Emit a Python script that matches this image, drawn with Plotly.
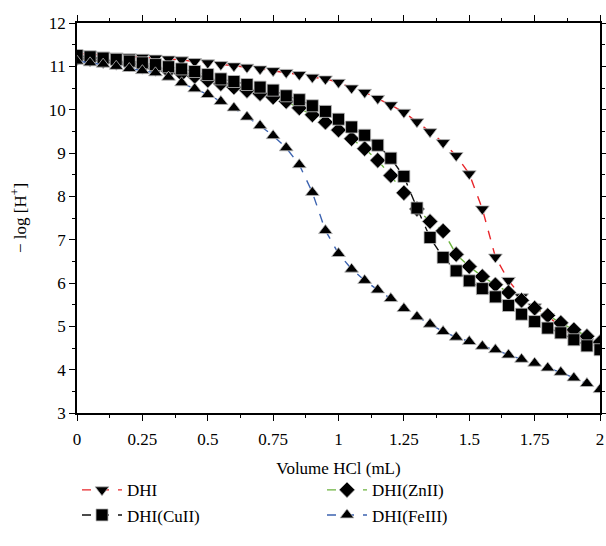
import plotly.graph_objects as go

volume = [round(0.05 * i, 2) for i in range(41)]

dhi = [11.30, 11.28, 11.26, 11.24, 11.22, 11.21, 11.19, 11.17, 11.15, 11.11,
       11.08, 11.04, 11.01, 10.98, 10.94, 10.90, 10.86, 10.81, 10.75, 10.71,
       10.63, 10.50, 10.40, 10.26, 10.11, 9.94, 9.72, 9.49, 9.24, 8.94,
       8.52, 7.71, 6.60, 6.06, 5.68, 5.45, 5.22, 5.00, 4.80, 4.65, 4.50]

cu = [11.25, 11.22, 11.19, 11.16, 11.12, 11.08, 11.04, 10.99, 10.94, 10.88,
      10.81, 10.71, 10.65, 10.58, 10.52, 10.45, 10.32, 10.23, 10.09, 9.96,
      9.78, 9.60, 9.41, 9.18, 8.88, 8.46, 7.73, 7.05, 6.59, 6.28,
      6.05, 5.87, 5.68, 5.48, 5.28, 5.11, 4.96, 4.85, 4.69, 4.55, 4.46]

zn = [11.20, 11.17, 11.13, 11.09, 11.05, 11.00, 10.95, 10.89, 10.83, 10.77,
      10.68, 10.60, 10.52, 10.44, 10.37, 10.29, 10.19, 10.04, 9.88, 9.71,
      9.53, 9.33, 9.10, 8.83, 8.48, 8.08, 7.71, 7.42, 7.20, 6.66,
      6.38, 6.15, 5.96, 5.78, 5.60, 5.42, 5.25, 5.08, 4.92, 4.77, 4.63]

fe = [11.12, 11.08, 11.05, 11.00, 10.95, 10.90, 10.85, 10.75, 10.62, 10.48,
      10.35, 10.19, 10.04, 9.83, 9.63, 9.40, 9.12, 8.73, 8.09, 7.21,
      6.68, 6.32, 6.06, 5.84, 5.64, 5.41, 5.22, 5.05, 4.88, 4.75,
      4.65, 4.54, 4.46, 4.34, 4.24, 4.15, 4.04, 3.94, 3.81, 3.68, 3.54]

x_tickvals = [0, 0.25, 0.5, 0.75, 1, 1.25, 1.5, 1.75, 2]
x_ticktext = ["0", "0.25", "0.5", "0.75", "1", "1.25", "1.5", "1.75", "2"]
y_tickvals = [3, 4, 5, 6, 7, 8, 9, 10, 11, 12]

series = [
    ("DHI", dhi, "#e8262b", "triangle-down"),
    ("DHI(ZnII)", zn, "#6cb33f", "diamond"),
    ("DHI(CuII)", cu, "#111111", "square"),
    ("DHI(FeIII)", fe, "#3c63b0", "triangle-up"),
]

FONT = "Liberation Serif, DejaVu Serif, serif"

fig = go.Figure()
for name, vals, color, sym in series:
    fig.add_trace(go.Scatter(
        x=volume, y=vals, name=name, mode="lines+markers",
        line=dict(color=color, width=1.4, dash="dash"),
        marker=dict(symbol=sym, size=12, color="black",
                    line=dict(color="#bbbbbb", width=0.8)),
    ))

axis_common = dict(
    showline=True, linecolor="black", linewidth=1.5, mirror="ticks",
    ticks="outside", ticklen=6, tickwidth=1.2, tickcolor="black",
    showgrid=False, zeroline=False, automargin=False,
    tickfont=dict(family=FONT, size=17, color="black"),
)

fig.update_xaxes(
    range=[0, 2], tickvals=x_tickvals, ticktext=x_ticktext,
    minor=dict(dtick=0.125, ticks="outside", ticklen=3, tickcolor="black"),
    ticklabelstandoff=4,
    title=dict(text="Volume HCl (mL)", font=dict(family=FONT, size=17, color="black"), standoff=14),
    **axis_common,
)
fig.update_yaxes(
    range=[3, 12], tickvals=y_tickvals,
    minor=dict(dtick=0.5, ticks="outside", ticklen=3, tickcolor="black"),
    title=dict(text="− log [H<sup>+</sup>]", font=dict(family=FONT, size=17, color="black"), standoff=18),
    **axis_common,
)

fig.update_layout(
    width=606, height=546,
    margin=dict(l=77, r=6, t=23, b=133, autoexpand=False),
    paper_bgcolor="white", plot_bgcolor="white",
    font=dict(family=FONT, size=17, color="black"),
    legend=dict(
        orientation="h", x=0.0, xanchor="left", y=-0.152, yanchor="top",
        entrywidth=190, entrywidthmode="pixels",
        font=dict(family=FONT, size=17, color="black"),
        tracegroupgap=0, itemwidth=40,
    ),
    showlegend=True,
)

fig.write_html(
    "out.html",
    config={"displayModeBar": False},
    post_script="document.body.style.margin='0';document.body.style.padding='0';",
)
